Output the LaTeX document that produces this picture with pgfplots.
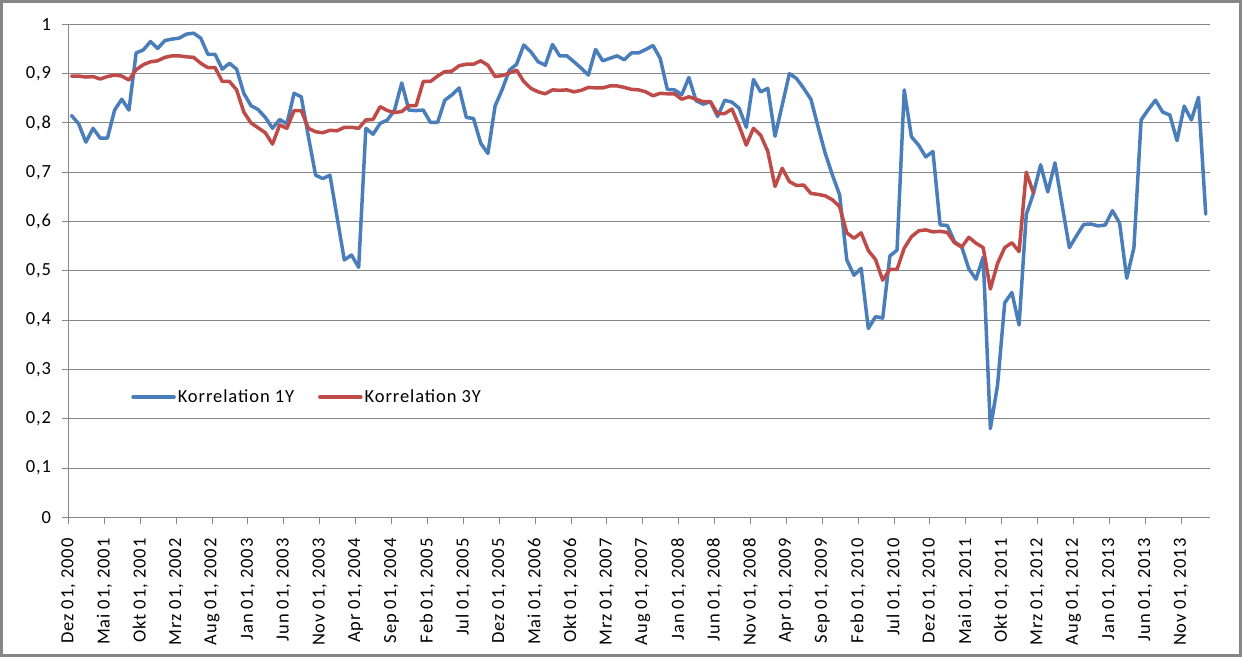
\documentclass[border=0pt]{standalone}
\usepackage{fontspec}
\setmainfont{Carlito}[LetterSpace=5]
\usepackage{pgfplots}
\usepackage{pgfplotstable}
\pgfplotsset{compat=1.18}
\definecolor{serA}{HTML}{4A7EBB}
\definecolor{serB}{HTML}{BE4B48}
\definecolor{gridgray}{HTML}{868686}
\newcommand\chartfont{\fontsize{18.5pt}{22pt}\selectfont}

% month index 0 = Dez 2000
\pgfplotstableread{
m v
0 0.815
1 0.798
2 0.761
3 0.789
4 0.769
5 0.769
6 0.826
7 0.848
8 0.826
9 0.942
10 0.948
11 0.965
12 0.951
13 0.967
14 0.970
15 0.972
16 0.980
17 0.982
18 0.972
19 0.939
20 0.939
21 0.909
22 0.921
23 0.909
24 0.860
25 0.835
26 0.827
27 0.811
28 0.789
29 0.807
30 0.798
31 0.860
32 0.853
33 0.772
34 0.694
35 0.687
36 0.694
37 0.608
38 0.522
39 0.532
40 0.507
41 0.789
42 0.777
43 0.799
44 0.806
45 0.826
46 0.881
47 0.826
48 0.825
49 0.826
50 0.801
51 0.801
52 0.846
53 0.857
54 0.871
55 0.811
56 0.809
57 0.759
58 0.738
59 0.834
60 0.868
61 0.907
62 0.919
63 0.958
64 0.944
65 0.924
66 0.917
67 0.959
68 0.936
69 0.936
70 0.924
71 0.911
72 0.897
73 0.949
74 0.926
75 0.931
76 0.936
77 0.928
78 0.942
79 0.942
80 0.949
81 0.957
82 0.931
83 0.868
84 0.867
85 0.857
86 0.892
87 0.845
88 0.838
89 0.843
90 0.813
91 0.846
92 0.842
93 0.830
94 0.791
95 0.888
96 0.863
97 0.870
98 0.773
99 0.836
100 0.900
101 0.890
102 0.870
103 0.848
104 0.792
105 0.738
106 0.694
107 0.654
108 0.522
109 0.491
110 0.505
111 0.383
112 0.407
113 0.404
114 0.530
115 0.542
116 0.867
117 0.772
118 0.755
119 0.731
120 0.742
121 0.593
122 0.592
123 0.559
124 0.549
125 0.504
126 0.483
127 0.528
128 0.180
129 0.268
130 0.435
131 0.456
132 0.390
133 0.614
134 0.657
135 0.715
136 0.660
137 0.719
138 0.633
139 0.547
140 0.571
141 0.594
142 0.595
143 0.591
144 0.593
145 0.622
146 0.597
147 0.485
148 0.547
149 0.806
150 0.827
151 0.846
152 0.822
153 0.816
154 0.764
155 0.834
156 0.806
157 0.852
158 0.615
}\korrA

\pgfplotstableread{
m v
0 0.895
1 0.895
2 0.893
3 0.894
4 0.889
5 0.894
6 0.897
7 0.895
8 0.887
9 0.908
10 0.918
11 0.924
12 0.926
13 0.933
14 0.936
15 0.936
16 0.934
17 0.933
18 0.921
19 0.912
20 0.912
21 0.884
22 0.884
23 0.867
24 0.822
25 0.800
26 0.790
27 0.780
28 0.757
29 0.796
30 0.789
31 0.825
32 0.825
33 0.789
34 0.782
35 0.780
36 0.785
37 0.784
38 0.791
39 0.791
40 0.789
41 0.806
42 0.807
43 0.833
44 0.825
45 0.821
46 0.823
47 0.835
48 0.835
49 0.884
50 0.884
51 0.895
52 0.904
53 0.905
54 0.916
55 0.919
56 0.919
57 0.926
58 0.917
59 0.894
60 0.896
61 0.901
62 0.907
63 0.884
64 0.870
65 0.863
66 0.859
67 0.867
68 0.866
69 0.867
70 0.863
71 0.866
72 0.872
73 0.871
74 0.871
75 0.875
76 0.875
77 0.872
78 0.868
79 0.867
80 0.863
81 0.855
82 0.860
83 0.859
84 0.859
85 0.848
86 0.853
87 0.848
88 0.843
89 0.843
90 0.819
91 0.819
92 0.828
93 0.794
94 0.755
95 0.789
96 0.775
97 0.742
98 0.671
99 0.708
100 0.681
101 0.673
102 0.674
103 0.657
104 0.655
105 0.652
106 0.644
107 0.630
108 0.577
109 0.566
110 0.577
111 0.541
112 0.523
113 0.481
114 0.503
115 0.503
116 0.546
117 0.569
118 0.581
119 0.583
120 0.579
121 0.580
122 0.578
123 0.557
124 0.548
125 0.568
126 0.556
127 0.547
128 0.463
129 0.515
130 0.547
131 0.557
132 0.539
133 0.700
134 0.658
}\korrB

\begin{document}
\begin{tikzpicture}
\begin{axis}[
    at={(68.3pt,139.7pt)}, anchor=south west,
    scale only axis, width=1141.7pt, height=493pt,
    xmin=-0.45, xmax=158.6, ymin=0, ymax=1,
    axis x line=bottom, axis y line=left,
    axis line style={-, draw=gridgray, line width=1pt},
    xtick={-0.42,4.58,9.58,14.58,19.58,24.58,29.58,34.58,39.58,44.58,49.58,54.58,59.58,64.58,69.58,74.58,79.58,84.58,89.58,94.58,99.58,104.58,109.58,114.58,119.58,124.58,129.58,134.58,139.58,144.58,149.58,154.58},
    xticklabels={{Dez 01, 2000},{Mai 01, 2001},{Okt 01, 2001},{Mrz 01, 2002},{Aug 01, 2002},{Jan 01, 2003},{Jun 01, 2003},{Nov 01, 2003},{Apr 01, 2004},{Sep 01, 2004},{Feb 01, 2005},{Jul 01, 2005},{Dez 01, 2005},{Mai 01, 2006},{Okt 01, 2006},{Mrz 01, 2007},{Aug 01, 2007},{Jan 01, 2008},{Jun 01, 2008},{Nov 01, 2008},{Apr 01, 2009},{Sep 01, 2009},{Feb 01, 2010},{Jul 01, 2010},{Dez 01, 2010},{Mai 01, 2011},{Okt 01, 2011},{Mrz 01, 2012},{Aug 01, 2012},{Jan 01, 2013},{Jun 01, 2013},{Nov 01, 2013}},
    ytick={0,0.1,0.2,0.3,0.4,0.5,0.6,0.7,0.8,0.9,1},
    ymajorgrids, grid style={gridgray, line width=1pt},
    tick align=outside, major tick length=6.5pt,
    tick style={gridgray, line width=1pt},
    tick label style={font=\chartfont, text=black},
    xticklabel style={rotate=90, anchor=east, inner sep=0pt},
    yticklabel style={anchor=east, inner sep=0pt},
    xticklabel shift=14.4pt, yticklabel shift=10.6pt,
    /pgf/number format/use comma,
    /pgf/number format/fixed,
    /pgf/number format/precision=1,
    /pgf/number format/assume math mode=true,
    legend columns=2,
    legend style={draw=none, fill=none, inner sep=0pt, font=\chartfont,
        at={(axis description cs:0.055,0.244)}, anchor=west,
        /tikz/every even column/.append style={column sep=22pt}},
    legend image code/.code={\draw[#1] (0pt,0pt) -- (41pt,0pt);},
]
\addplot[serA, line width=3.5pt, line join=round, line cap=round] table[x=m,y=v]{\korrA};
\addlegendentry{Korrelation 1Y}
\addplot[serB, line width=3.5pt, line join=round, line cap=round] table[x=m,y=v]{\korrB};
\addlegendentry{Korrelation 3Y}
\end{axis}
\pgfresetboundingbox
\useasboundingbox (0,0) rectangle (1242pt,657pt);
\draw[gridgray, line width=2.7pt] (1.35pt,1.35pt) rectangle (1240.65pt,655.65pt);
\end{tikzpicture}
\end{document}
